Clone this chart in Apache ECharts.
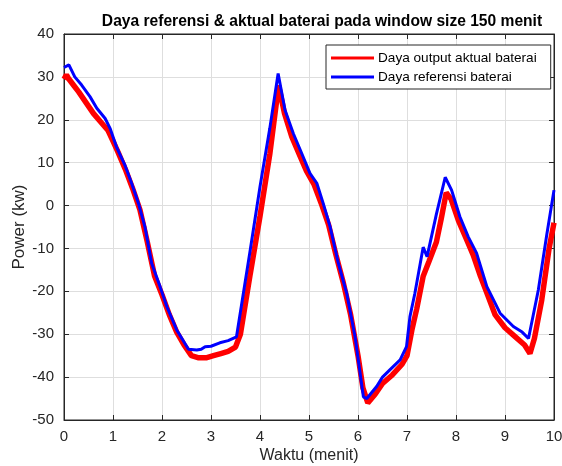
<!DOCTYPE html>
<html>
<head>
<meta charset="utf-8">
<script src="https://cdn.jsdelivr.net/npm/echarts@6/dist/echarts.min.js"></script>
<style>
  html, body { margin: 0; padding: 0; background: #fff; }
  #chart { width: 562px; height: 466px; }
</style>
</head>
<body>
<div id="chart"></div>
<script>
// reference power (blue)
const refTime = [0, 0.1, 0.22, 0.36, 0.53, 0.67, 0.84, 0.94, 1.07, 1.24, 1.38, 1.52, 1.65, 1.79, 1.96, 2.1, 2.3, 2.54, 2.71, 2.8, 2.88, 3.0, 3.18, 3.35, 3.52, 3.8, 4.0, 4.2, 4.37, 4.51, 4.68, 4.85, 5.02, 5.16, 5.29, 5.43, 5.6, 5.77, 5.94, 6.11, 6.18, 6.38, 6.5, 6.65, 6.86, 6.99, 7.06, 7.16, 7.33, 7.41, 7.6, 7.78, 7.91, 8.08, 8.25, 8.42, 8.63, 8.9, 9.17, 9.35, 9.48, 9.68, 9.85, 10]
const refPower = [32.2, 32.8, 30, 28.1, 25.4, 22.7, 20.3, 18, 13.7, 9.5, 5.2, 0.5, -4.9, -13.5, -18.9, -23.6, -29, -33.5, -33.7, -33.5, -32.9, -32.8, -32, -31.5, -30.6, -10.4, 4.4, 18, 30.8, 22.3, 16.8, 12.2, 7.5, 5.2, 0.5, -4.9, -13.5, -20.5, -30.6, -44.6, -45, -42.2, -40, -38.3, -36, -32.9, -25.9, -20.5, -9.7, -11.9, -2, 6.6, 3.6, -2.6, -7.3, -11.1, -18.9, -25.1, -28.2, -29.5, -31, -19.7, -7, 3.6]

// actual battery output (red)
const actTime = [0, 0.05, 0.1, 0.2, 0.3, 0.45, 0.6, 0.75, 0.9, 1.0, 1.1, 1.25, 1.4, 1.55, 1.7, 1.85, 2.0, 2.15, 2.3, 2.45, 2.6, 2.75, 2.9, 3.05, 3.2, 3.35, 3.5, 3.6, 3.8, 4.0, 4.2, 4.38, 4.5, 4.65, 4.8, 4.95, 5.1, 5.25, 5.4, 5.55, 5.7, 5.85, 6.0, 6.1, 6.2, 6.35, 6.5, 6.7, 6.9, 7.0, 7.1, 7.2, 7.33, 7.45, 7.6, 7.7, 7.8, 7.9, 8.05, 8.2, 8.35, 8.5, 8.65, 8.8, 9.0, 9.2, 9.4, 9.51, 9.6, 9.75, 9.9, 10]
const actPower = [29.5, 30.5, 29.5, 28, 26.5, 24, 21.5, 19.5, 17.5, 15, 12.5, 8.5, 4, -1, -8.5, -16.5, -20.8, -25.5, -29.5, -32.5, -35, -35.5, -35.5, -35, -34.5, -34, -33, -30, -16, -2.5, 12, 28, 21.5, 16, 12, 8, 5, 0.5, -4.5, -11.5, -18, -25.5, -35, -42.5, -46, -44, -41.5, -39.5, -37, -35, -29, -24, -16.5, -13, -8.5, -3, 3, 1.5, -3.5, -7.5, -11.5, -16.5, -21, -25.5, -28.5, -30.5, -32.5, -34.5, -31, -22, -10, -4]

const xTicks = [0, 10, 1]
const yTicks = [-50, 40, 10]

const font = 'Liberation Sans, Arial, Helvetica, sans-serif'
const dark = '#262626'

const chart = echarts.init(document.getElementById('chart'), null, { renderer: 'canvas' })

const pairs = (t, v) => t.map((x, i) => [x, v[i]])

const axisCommon = {
  type: 'value',
  axisLine: { show: true, onZero: false, lineStyle: { color: dark, width: 1 } },
  axisTick: { show: true, inside: true, length: 5, lineStyle: { color: dark } }
}

chart.setOption({
  animation: false,
  backgroundColor: '#fff',
  title: {
    text: 'Daya referensi & aktual baterai pada window size 150 menit',
    left: 317,
    textAlign: 'center',
    top: 9,
    textStyle: { fontFamily: font, fontSize: 15.6, fontWeight: 'bold', color: '#000' }
  },
  legend: {
    orient: 'vertical',
    left: 326,
    top: 45,
    padding: [6, 14, 5, 5],
    itemGap: 5,
    itemWidth: 43,
    itemHeight: 3,
    icon: 'rect',
    backgroundColor: '#fff',
    borderColor: dark,
    borderWidth: 1,
    borderRadius: 0,
    textStyle: { fontFamily: font, fontSize: 13.6, lineHeight: 14, color: '#000', padding: [0, 0, 0, -1] },
    data: ['Daya output aktual baterai', 'Daya referensi baterai']
  },
  grid: { left: 64, right: 8, top: 34, bottom: 46, outerBoundsMode: 'none', show: true, borderColor: dark, borderWidth: 1 },
  xAxis: [
    Object.assign({}, axisCommon, {
      min: xTicks[0], max: xTicks[1], interval: xTicks[2],
      position: 'bottom',
      name: 'Waktu (menit)',
      nameLocation: 'middle',
      nameGap: 28,
      nameMoveOverlap: false,
      nameTextStyle: { fontFamily: font, fontSize: 16, color: dark },
      axisLabel: { fontFamily: font, fontSize: 15, color: dark, margin: 9 },
      splitLine: { show: true, lineStyle: { color: '#dedede', width: 1 } }
    }),
    Object.assign({}, axisCommon, {
      min: xTicks[0], max: xTicks[1], interval: xTicks[2],
      position: 'top',
      axisLabel: { show: false },
      splitLine: { show: false }
    })
  ],
  yAxis: [
    Object.assign({}, axisCommon, {
      min: yTicks[0], max: yTicks[1], interval: yTicks[2],
      position: 'left',
      name: 'Power (kw)',
      nameLocation: 'middle',
      nameGap: 36,
      nameMoveOverlap: false,
      nameTextStyle: { fontFamily: font, fontSize: 17, color: dark },
      axisLabel: { fontFamily: font, fontSize: 15, color: dark, margin: 10 },
      splitLine: { show: true, lineStyle: { color: '#dedede', width: 1 } }
    }),
    Object.assign({}, axisCommon, {
      min: yTicks[0], max: yTicks[1], interval: yTicks[2],
      position: 'right',
      axisLabel: { show: false },
      splitLine: { show: false }
    })
  ],
  series: [
    {
      name: 'Daya output aktual baterai',
      type: 'line',
      data: pairs(actTime, actPower),
      showSymbol: false,
      symbol: 'none',
      itemStyle: { color: '#ff0000' },
      lineStyle: { color: '#ff0000', width: 5.5 },
      z: 2
    },
    {
      name: 'Daya referensi baterai',
      type: 'line',
      data: pairs(refTime, refPower),
      showSymbol: false,
      symbol: 'none',
      itemStyle: { color: '#0000ff' },
      lineStyle: { color: '#0000ff', width: 3 },
      z: 3
    }
  ]
})
</script>
</body>
</html>
